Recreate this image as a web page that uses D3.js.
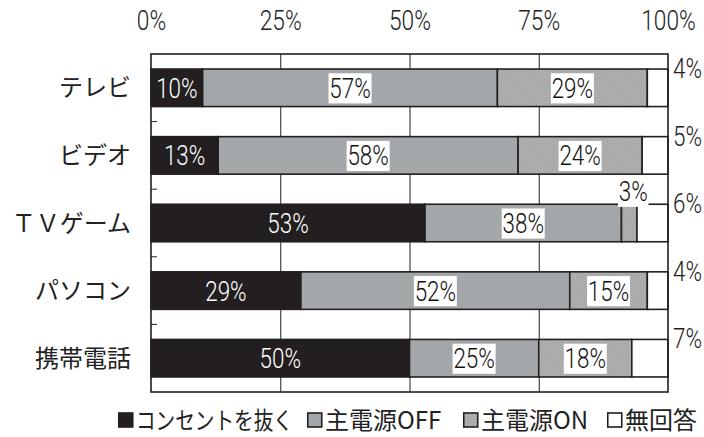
<!DOCTYPE html>
<html>
<head>
<meta charset="utf-8">
<script src="https://cdn.jsdelivr.net/npm/d3@7"></script>
<style>
  body { margin: 0; background: #fff; }
  svg { display: block; }
  .num { font-family: Roboto, "Liberation Sans", sans-serif; font-weight: 300; font-size: 28px; }
  .jp { font-family: "Noto Sans CJK JP", sans-serif; font-size: 24px; }
</style>
</head>
<body>
<svg id="chart" width="704" height="437"></svg>
<script>
// Devices (rows) and how each one is left when not in use (stacked shares, %)
const categories = ["テレビ", "ビデオ", "ＴＶゲーム", "パソコン", "携帯電話"];
const seriesNames = ["コンセントを抜く", "主電源OFF", "主電源ON", "無回答"];
const unplug     = [10, 13, 53, 29, 50];
const mainOff    = [57, 58, 38, 52, 25];
const mainOn     = [29, 24,  3, 15, 18];
const noAnswer   = [ 4,  5,  6,  4,  7];
const tickValues = [0, 25, 50, 75, 100];

const ink = "#231f20";
const grey = "#a4a7a9";
const narrow = 0.8; // horizontal squeeze for the condensed numerals

const rows = categories.map((c, i) => ({
  category: c,
  [seriesNames[0]]: unplug[i],
  [seriesNames[1]]: mainOff[i],
  [seriesNames[2]]: mainOn[i],
  [seriesNames[3]]: noAnswer[i]
}));
const stacked = d3.stack().keys(seriesNames)(rows);

const svg = d3.select("#chart");

// Fine diagonal texture for the "main power ON" share
const defs = svg.append("defs");
const pat = defs.append("pattern")
  .attr("id", "hatch")
  .attr("patternUnits", "userSpaceOnUse")
  .attr("width", 3).attr("height", 3);
pat.append("rect").attr("width", 3).attr("height", 3).attr("fill", "#b3b3b3");
pat.append("path").attr("d", "M-1,-1 L4,4 M-1,2 L1,4 M2,-1 L4,1")
  .attr("stroke", "#979797").attr("stroke-width", 0.8);

const fills = [ink, grey, "url(#hatch)", "#ffffff"];

const x = d3.scaleLinear().domain([0, 100]).range([151, 668]);
const y = d3.scaleBand().domain(categories).range([54, 392])
  .paddingInner(0.445).paddingOuter(0.2225);
const plotTop = y.range()[0], plotBottom = y.range()[1];

// Places a condensed numeric label; anchor is "start" | "middle"
function numLabel(parent, px, py, txt, anchor, fill, withBox) {
  const g = parent.append("g").attr("transform", `translate(${px},${py}) scale(${narrow},1)`);
  const t = g.append("text").attr("class", "num")
    .attr("text-anchor", anchor).attr("fill", fill).text(txt);
  if (withBox) {
    const b = t.node().getBBox();
    g.insert("rect", "text")
      .attr("x", b.x - 1).attr("y", b.y + 2)
      .attr("width", b.width + 2).attr("height", b.height - 3)
      .attr("fill", "#fff");
  }
  return g;
}

// Top percentage axis
const topAxis = svg.append("g")
  .attr("transform", `translate(0,30)`)
  .call(d3.axisTop(x).tickValues(tickValues).tickFormat(d => d + "%").tickSize(0).tickPadding(0));
topAxis.select(".domain").remove();
topAxis.selectAll(".tick text")
  .attr("fill", "#222")
  .attr("transform", `scale(0.84,1)`)
  .style("font-size", "27px")
  .style("font-weight", 300)
  .style("font-family", "Roboto, \"Liberation Sans\", sans-serif");

// Vertical grid lines behind the bars
const grid = svg.append("g")
  .attr("transform", `translate(0,${plotTop})`)
  .call(d3.axisBottom(x).tickValues(tickValues.slice(1, -1)).tickSize(plotBottom - plotTop).tickFormat(""));
grid.select(".domain").remove();
grid.selectAll("line").attr("stroke", ink).attr("stroke-width", 1);

// Short ticks on the left edge between rows
const boundaries = categories.slice(1).map(c => y(c) - y.step() * y.paddingInner() / 2);
svg.append("g").selectAll("line").data(boundaries).join("line")
  .attr("x1", x(0)).attr("x2", x(0) + 6)
  .attr("y1", d => d).attr("y2", d => d)
  .attr("stroke", ink).attr("stroke-width", 1);

// Stacked segments
const layers = svg.append("g").selectAll("g").data(stacked).join("g")
  .attr("fill", (d, i) => fills[i]);
layers.selectAll("rect").data(d => d).join("rect")
  .attr("x", d => x(d[0]))
  .attr("y", d => y(d.data.category))
  .attr("width", d => x(d[1]) - x(d[0]))
  .attr("height", y.bandwidth())
  .attr("stroke", ink)
  .attr("stroke-width", 1.6);

// Plot frame
svg.append("rect")
  .attr("x", x(0)).attr("y", plotTop)
  .attr("width", x(100) - x(0)).attr("height", plotBottom - plotTop)
  .attr("fill", "none").attr("stroke", ink).attr("stroke-width", 1.6);

// Value labels
const labels = svg.append("g");
stacked.forEach((layer, si) => {
  layer.forEach(d => {
    const v = d[1] - d[0];
    const top = y(d.data.category);
    const cy = top + y.bandwidth() / 2 + 10;
    const cx = (x(d[0]) + x(d[1])) / 2;
    if (si === 0) {
      numLabel(labels, cx, cy, v + "%", "middle", "#fff", false);
    } else if (si === 3) {
      numLabel(labels, x(100) + 5, top + 9, v + "%", "start", "#222", false);
    } else if (v >= 10) {
      numLabel(labels, cx, cy, v + "%", "middle", "#111", true);
    } else {
      numLabel(labels, cx + 4, top - 3, v + "%", "middle", "#111", true);
    }
  });
});

// Row labels
svg.append("g").selectAll("text").data(categories).join("text")
  .attr("class", "jp")
  .attr("x", 131)
  .attr("y", d => y(d) + y.bandwidth() / 2)
  .attr("dy", "0.36em")
  .attr("text-anchor", "end")
  .attr("fill", "#222")
  .text(d => d);

// Legend
const legend = svg.append("g");
const legendY = 420, sq = 14;
const legendX = [118, 307, 463, 607];
seriesNames.forEach((name, i) => {
  legend.append("rect")
    .attr("x", legendX[i] + 0.75).attr("y", legendY - sq / 2)
    .attr("width", sq).attr("height", sq)
    .attr("fill", fills[i]).attr("stroke", ink).attr("stroke-width", 1.6);
  const t = legend.append("text").attr("class", "jp")
    .attr("x", legendX[i] + sq + 4).attr("y", legendY).attr("dy", "0.36em")
    .attr("fill", "#222")
    .text(name);
  if (i === 0) {
    // the first entry is set condensed to fit its slot
    t.attr("textLength", 157).attr("lengthAdjust", "spacingAndGlyphs");
  }
});
</script>
</body>
</html>
